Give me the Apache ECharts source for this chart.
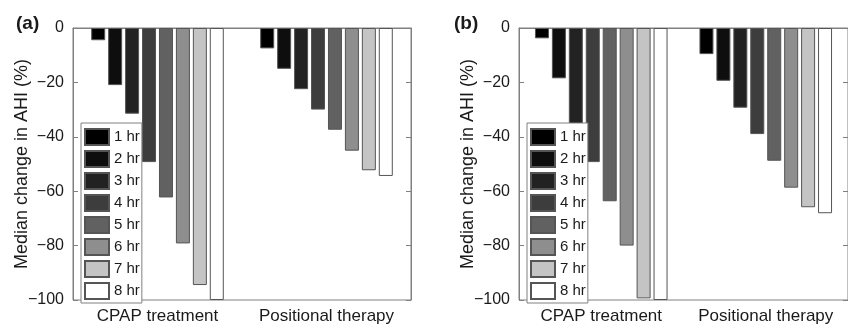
<!DOCTYPE html>
<html>
<head>
<meta charset="utf-8">
<script src="https://cdn.jsdelivr.net/npm/echarts@6/dist/echarts.min.js"></script>
<style>
  html, body { margin: 0; padding: 0; background: #fff; }
  #chart { width: 848px; height: 326px; }
</style>
</head>
<body>
<div id="chart"></div>
<script>
const categories = ['CPAP treatment', 'Positional therapy']
const hours = ['1 hr', '2 hr', '3 hr', '4 hr', '5 hr', '6 hr', '7 hr', '8 hr']
const yTicks = [-100, -80, -60, -40, -20, 0]
// panel (a)
const aCpap = [-4.5, -21, -31.5, -49.3, -62.3, -79.2, -94.5, -100]
const aPositional = [-7.5, -15, -22.5, -30, -37.4, -45.1, -52.3, -54.4]
// panel (b)
const bCpap = [-3.8, -18.5, -36, -49.3, -63.7, -80, -99.4, -100]
const bPositional = [-9.6, -19.4, -29.3, -39, -48.8, -58.7, -65.9, -68.1]

const grays = ['#000000', '#0e0e0e', '#222222', '#3d3d3d', '#616161', '#8e8e8e', '#c4c4c4', '#ffffff']
const font = 'Liberation Sans, Arial, sans-serif'
const axisGray = '#808080'

const chart = echarts.init(document.getElementById('chart'))

const fmt = (v) => (v < 0 ? '\u2212' + Math.abs(v) : String(v))

const grids = [
  { left: 73, top: 28, width: 338, height: 272, show: true, borderColor: axisGray, borderWidth: 1, backgroundColor: 'transparent' },
  { left: 519, top: 28, width: 337, height: 272, show: true, borderColor: axisGray, borderWidth: 1, backgroundColor: 'transparent' },
]

const xAxes = grids.map((g, i) => ({
  type: 'category',
  gridIndex: i,
  data: categories,
  axisLine: { lineStyle: { color: axisGray, width: 1 } },
  axisTick: { inside: true, alignWithLabel: true, length: 5, lineStyle: { color: axisGray } },
  axisLabel: { interval: 0, color: '#1a1a1a', fontSize: 17, fontFamily: font, margin: 8 },
}))

const yAxes = []
grids.forEach((g, i) => {
  yAxes.push({
    type: 'value',
    gridIndex: i,
    min: yTicks[0],
    max: yTicks[yTicks.length - 1],
    interval: 20,
    name: 'Median change in AHI (%)',
    nameLocation: 'middle',
    nameGap: 42,
    nameMoveOverlap: false,
    nameTextStyle: { color: '#1a1a1a', fontSize: 18, fontFamily: font },
    axisLine: { show: true, lineStyle: { color: axisGray, width: 1 } },
    axisTick: { show: true, inside: true, length: 5, lineStyle: { color: axisGray } },
    axisLabel: { color: '#1a1a1a', fontSize: 16, fontFamily: font, margin: 9, formatter: fmt },
    splitLine: { show: false },
  })
  yAxes.push({
    type: 'value',
    gridIndex: i,
    position: 'right',
    min: yTicks[0],
    max: yTicks[yTicks.length - 1],
    interval: 20,
    axisLine: { show: true, lineStyle: { color: axisGray, width: 1 } },
    axisTick: { show: true, inside: true, length: 5, lineStyle: { color: axisGray } },
    axisLabel: { show: false },
    splitLine: { show: false },
  })
})

const series = []
const panels = [[aCpap, aPositional], [bCpap, bPositional]]
panels.forEach((p, gi) => {
  hours.forEach((h, k) => {
    series.push({
      type: 'bar',
      name: h,
      xAxisIndex: gi,
      yAxisIndex: gi * 2,
      data: [p[0][k], p[1][k]],
      barWidth: 14,
      barGap: '21%',
      itemStyle: { color: grays[k], borderColor: '#555', borderWidth: 1 },
      emphasis: { disabled: true },
    })
  })
})

const legendBase = {
  orient: 'vertical',
  data: hours,
  icon: 'rect',
  itemWidth: 24,
  itemHeight: 16,
  itemGap: 4,
  padding: [5, 2, 3, 3],
  backgroundColor: '#fff',
  borderColor: axisGray,
  borderWidth: 1,
  textStyle: { color: '#1a1a1a', fontSize: 15, fontFamily: font },
  selectedMode: false,
}

chart.setOption({
  animation: false,
  title: [
    { text: '(a)', left: 11, top: 9, textStyle: { fontSize: 19, fontWeight: 'bold', fontFamily: font, color: '#1a1a1a' } },
    { text: '(b)', left: 449, top: 9, textStyle: { fontSize: 19, fontWeight: 'bold', fontFamily: font, color: '#1a1a1a' } },
  ],
  grid: grids,
  xAxis: xAxes,
  yAxis: yAxes,
  legend: [
    { ...legendBase, left: 81, top: 123 },
    { ...legendBase, left: 527, top: 123 },
  ],
  series: series,
})
</script>
</body>
</html>
